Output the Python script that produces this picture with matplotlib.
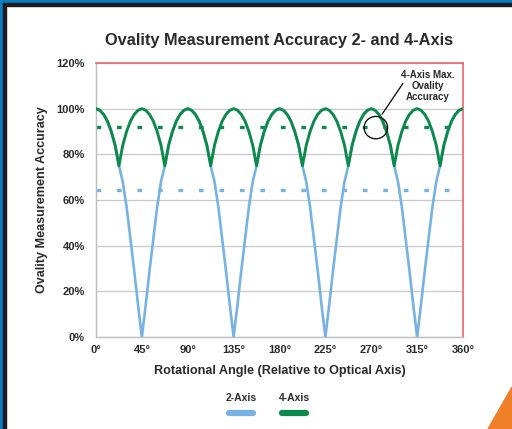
import matplotlib
matplotlib.use("Agg")
import matplotlib.pyplot as plt
from matplotlib.patches import Rectangle, Polygon, Ellipse
from matplotlib.lines import Line2D

plt.rcParams["font.family"] = ["Liberation Sans", "DejaVu Sans"]
plt.rcParams["font.weight"] = "bold"
plt.rcParams["lines.scale_dashes"] = False

# angle every 3.75 degrees, 0..360
angles = [i * 3.75 for i in range(97)]

two_axis = [
    100, 99.3, 97.5, 94.5, 90, 84, 75, 68, 57, 43, 29, 14,
    0, 14, 29, 43, 57, 68, 75, 84, 90, 94.5, 97.5, 99.3,
    100, 99.3, 97.5, 94.5, 90, 84, 75, 68, 57, 43, 29, 14,
    0, 14, 29, 43, 57, 68, 75, 84, 90, 94.5, 97.5, 99.3,
    100, 99.3, 97.5, 94.5, 90, 84, 75, 68, 57, 43, 29, 14,
    0, 14, 29, 43, 57, 68, 75, 84, 90, 94.5, 97.5, 99.3,
    100, 99.3, 97.5, 94.5, 90, 84, 75, 68, 57, 43, 29, 14,
    0, 14, 29, 43, 57, 68, 75, 84, 90, 94.5, 97.5, 99.3,
    100,
]

four_axis = [
    100, 99.3, 97.5, 94.5, 90, 84, 75, 84, 90, 94.5, 97.5, 99.3,
    100, 99.3, 97.5, 94.5, 90, 84, 75, 84, 90, 94.5, 97.5, 99.3,
    100, 99.3, 97.5, 94.5, 90, 84, 75, 84, 90, 94.5, 97.5, 99.3,
    100, 99.3, 97.5, 94.5, 90, 84, 75, 84, 90, 94.5, 97.5, 99.3,
    100, 99.3, 97.5, 94.5, 90, 84, 75, 84, 90, 94.5, 97.5, 99.3,
    100, 99.3, 97.5, 94.5, 90, 84, 75, 84, 90, 94.5, 97.5, 99.3,
    100, 99.3, 97.5, 94.5, 90, 84, 75, 84, 90, 94.5, 97.5, 99.3,
    100, 99.3, 97.5, 94.5, 90, 84, 75, 84, 90, 94.5, 97.5, 99.3,
    100,
]

two_axis_avg = 64.5
four_axis_avg = 92.0

x_ticks = [0, 45, 90, 135, 180, 225, 270, 315, 360]
x_labels = ["0°", "45°", "90°", "135°", "180°", "225°", "270°", "315°", "360°"]
y_ticks = [0, 20, 40, 60, 80, 100, 120]
y_labels = ["0%", "20%", "40%", "60%", "80%", "100%", "120%"]

BLUE = "#76b3e3"
GREEN = "#0c8a4c"
RED = "#e8666b"
GRID = "#c8c8c8"
TEXT = "#2a2a2a"

fig = plt.figure(figsize=(5.12, 4.29), dpi=100)
fig.patch.set_facecolor("white")

# frame: blue band + dark line on top and left, orange corner
W, H = 512, 429
def px(x0, y0, w, h, color):
    fig.patches.append(Rectangle((x0 / W, 1 - (y0 + h) / H), w / W, h / H,
                                 transform=fig.transFigure, color=color, zorder=0))
px(0, 0, W, 3, "#0a7cc1")
px(0, 0, 3, H, "#0a7cc1")
px(3, 3, W, 2.7, "#1d1d1f")
px(3, 3, 2.5, H, "#1d1d1f")
fig.patches.append(Polygon([(512 / W, 1 - 387 / H), (488 / W, 0), (1, 0)], closed=True,
                           transform=fig.transFigure, color="#f07f2a", zorder=0))

ax = fig.add_axes([96 / W, 1 - 337 / H, 367 / W, 274 / H])
ax.set_xlim(0, 360)
ax.set_ylim(0, 120)

ax.plot([0, 360], [two_axis_avg, two_axis_avg], color=BLUE, lw=2.4,
        linestyle=(0, (3.4, 11.35)), zorder=2)
ax.plot([0, 360], [four_axis_avg, four_axis_avg], color=GREEN, lw=2.4,
        linestyle=(0, (3.4, 11.35)), zorder=2)
ax.plot(angles, two_axis, color=BLUE, lw=1.9, zorder=3, solid_joinstyle="round")
ax.plot(angles, four_axis, color=GREEN, lw=2.1, zorder=4, solid_joinstyle="round")

ax.set_xticks(x_ticks, x_labels)
ax.set_yticks(y_ticks, y_labels)
ax.tick_params(length=0, labelsize=8, colors=TEXT)
ax.tick_params(axis="y", pad=8)
ax.tick_params(axis="x", pad=6)
ax.grid(axis="y", color=GRID, lw=0.9)
ax.set_axisbelow(True)
for s in ["top", "right"]:
    ax.spines[s].set_color(RED)
    ax.spines[s].set_linewidth(1.2)
for s in ["left", "bottom"]:
    ax.spines[s].set_color("#bdbdbd")
    ax.spines[s].set_linewidth(1.0)

ax.set_title("Ovality Measurement Accuracy 2- and 4-Axis", fontsize=11.8,
             fontweight="bold", color=TEXT, pad=13)
ax.set_xlabel("Rotational Angle (Relative to Optical Axis)", fontsize=9.1,
              fontweight="bold", color=TEXT, labelpad=7)
ax.set_ylabel("Ovality Measurement Accuracy", fontsize=9.1,
              fontweight="bold", color=TEXT, labelpad=6)

# callout
ax.add_patch(Ellipse((274.5, 91.7), 23, 9.8, fill=False, ec="black", lw=0.9, zorder=5))
ax.annotate("", xy=(279, 96.5), xytext=(302.5, 112),
            arrowprops=dict(arrowstyle="-", color="black", lw=0.9))
ax.text(325, 110, "4-Axis Max.\nOvality\nAccuracy", ha="center", va="center",
        fontsize=7, fontweight="bold", color=TEXT, linespacing=1.15)

# legend: label above a rounded swatch
for cx, label, col in [(241, "2-Axis", BLUE), (294, "4-Axis", GREEN)]:
    fig.text(cx / W, 1 - 398 / H, label, ha="center", va="center",
             fontsize=7.5, fontweight="bold", color=TEXT)
    fig.add_artist(Line2D([(cx - 12) / W, (cx + 12) / W], [1 - 413 / H] * 2,
                          color=col, lw=4.5, solid_capstyle="round",
                          transform=fig.transFigure))

fig.savefig("out.png", dpi=100)
